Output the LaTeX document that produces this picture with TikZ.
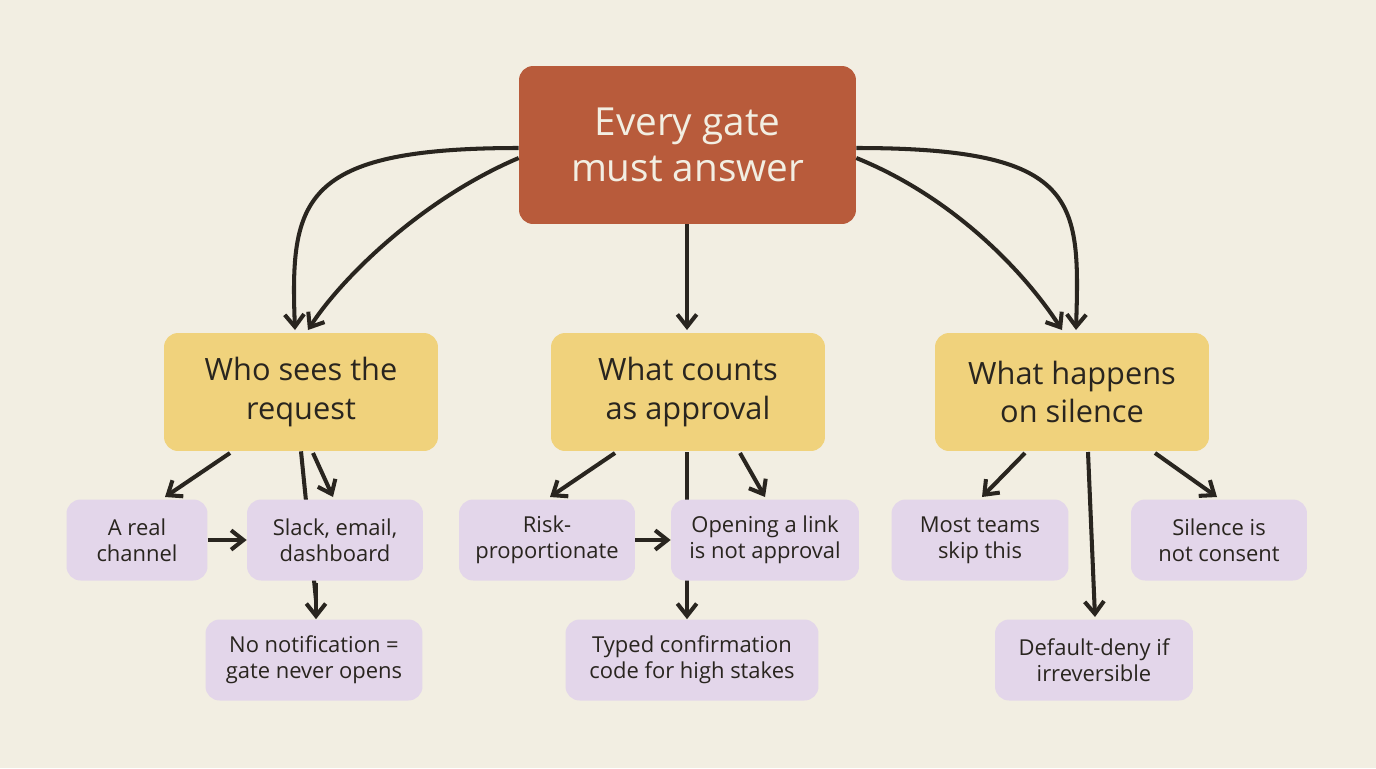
\documentclass[tikz,border=0pt]{standalone}
\usepackage{fontspec}
\setmainfont{Open Sans}
\usetikzlibrary{arrows.meta,calc}
\definecolor{bgcol}{HTML}{F2EEE2}
\definecolor{rootcol}{HTML}{B85B3B}
\definecolor{qcol}{HTML}{F0D27C}
\definecolor{leafcol}{HTML}{E3D6EA}
\definecolor{inkcol}{HTML}{29251F}
\tikzset{>={Straight Barb[length=7pt,width=11pt]}}
\tikzset{
  root/.style={rounded corners=8pt, fill=rootcol, text=bgcol, align=center, minimum width=6.74cm, minimum height=3.16cm, font=\fontsize{22}{26}\selectfont},
  question/.style={rounded corners=8pt, fill=qcol, text=inkcol, align=center, minimum width=5.48cm, minimum height=2.36cm, font=\fontsize{17.5}{22}\selectfont},
  leaf/.style={rounded corners=8pt, fill=leafcol, text=inkcol, align=center, minimum height=1.62cm, font=\fontsize{12.5}{15}\selectfont},
  link/.style={->, line width=2.3pt, draw=inkcol},
  trunk/.style={line width=2.3pt, draw=inkcol},
}

\begin{document}
\begin{tikzpicture}[x=0.02cm,y=-0.02cm]
            \fill[bgcol] (0,0) rectangle (1376,768);
            \node[root] (gate) at (687.5,145) {Every gate\\must answer};

            \node[question] (who) at (301,392) {Who sees the\\request};
            \node[question] (counts) at (688,392) {What counts\\as approval};
            \node[question] (silence) at (1072,392) {What happens\\on silence};

            % branch lines behind the leaves
            \draw[trunk] (who.south) -- (316,600);
            \draw[trunk] (687,452) -- (687,600);
            \draw[link] (1088,452) -- (1095,617);

            \node[leaf, minimum width=2.82cm] (channel) at (137,540) {A real\\channel};
            \node[leaf, minimum width=3.52cm] (slack) at (335,540) {Slack, email,\\dashboard};
            \node[leaf, minimum width=4.34cm] (nonote) at (314,660) {No notification =\\gate never opens};
            \node[leaf, minimum width=3.52cm] (risk) at (547,540) {Risk-\\proportionate};
            \node[leaf, minimum width=3.76cm] (opening) at (765,540) {Opening a link\\is not approval};
            \node[leaf, minimum width=5.06cm] (typed) at (692,660) {Typed confirmation\\code for high stakes};
            \node[leaf, minimum width=3.54cm] (most) at (980,540) {Most teams\\skip this};
            \node[leaf, minimum width=3.52cm] (consent) at (1219,540) {Silence is\\not consent};
            \node[leaf, minimum width=3.96cm] (deny) at (1094,660) {Default-deny if\\irreversible};

            % visible tails below the middle leaves
            \draw[link] (316,583) -- (nonote.north -| 316,0);
            \draw[link] (687,583) -- (typed.north -| 687,0);

            % from the top node
            \draw[link] (gate.west |- 0,148) .. controls (300,148) and (290,200) .. (295,330);
            \draw[link] (gate.west |- 0,158) .. controls (420,200) and (340,280) .. (308,330);
            \draw[link] (gate.south -| 687,0) -- (687,330);
            \draw[link] (gate.east |- 0,148) .. controls (1080,148) and (1080,200) .. (1076,330);
            \draw[link] (gate.east |- 0,158) .. controls (960,200) and (1030,280) .. (1062,330);

            % from the questions
            \draw[link] (230,453) -- (165,497);
            \draw[link] (313,453) -- (333,497);
            \draw[link] (channel.east) -- (slack.west);
            \draw[link] (615,453) -- (550,497);
            \draw[link] (740,453) -- (765,497);
            \draw[link] (risk.east) -- (opening.west);
            \draw[link] (1025,453) -- (982,497);
            \draw[link] (1155,453) -- (1217,497);
\end{tikzpicture}
\end{document}
